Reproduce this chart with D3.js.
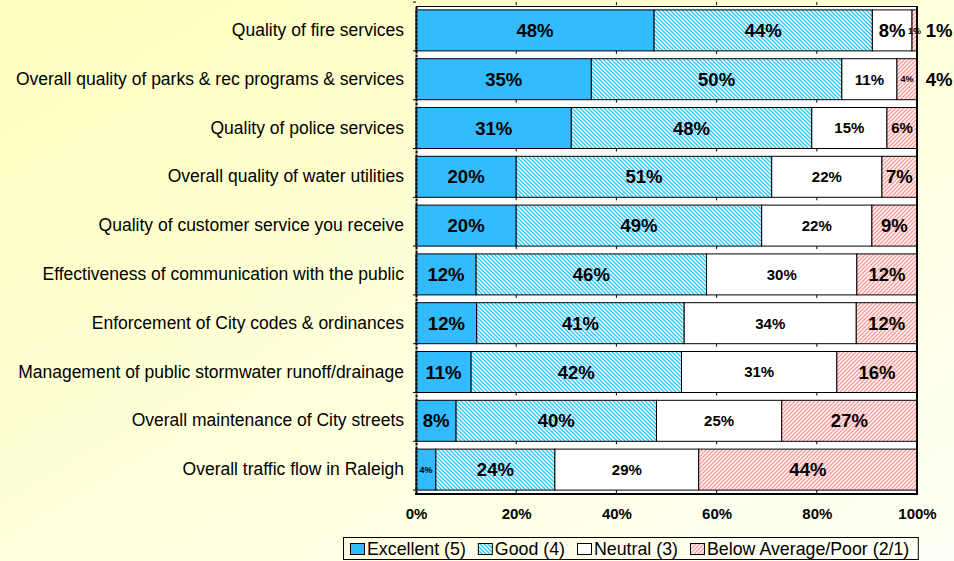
<!DOCTYPE html>
<html>
<head>
<meta charset="utf-8">
<script src="https://cdn.jsdelivr.net/npm/d3@7"></script>
<style>
  body { margin: 0; }
  svg { display: block; font-family: "Liberation Sans", Arial, sans-serif; }
</style>
</head>
<body>
<svg id="chart" width="954" height="561"></svg>
<script>
// survey categories, top to bottom
const categories = [
    "Quality of fire services",
    "Overall quality of parks & rec programs & services",
    "Quality of police services",
    "Overall quality of water utilities",
    "Quality of customer service you receive",
    "Effectiveness of communication with the public",
    "Enforcement of City codes & ordinances",
    "Management of public stormwater runoff/drainage",
    "Overall maintenance of City streets",
    "Overall traffic flow in Raleigh"
];

const seriesNames = ["Excellent (5)", "Good (4)", "Neutral (3)", "Below Average/Poor (2/1)"];

const excellent = [48, 35, 31, 20, 20, 12, 12, 11, 8, 4];
const good      = [44, 50, 48, 51, 49, 46, 41, 42, 40, 24];
const neutral   = [8, 11, 15, 22, 22, 30, 34, 31, 25, 29];
const poor      = [1, 4, 6, 7, 9, 12, 12, 16, 27, 44];

const xTicks = [0, 0.2, 0.4, 0.6, 0.8, 1];

const rows = categories.map((c, i) => ({
    category: c,
    [seriesNames[0]]: excellent[i],
    [seriesNames[1]]: good[i],
    [seriesNames[2]]: neutral[i],
    [seriesNames[3]]: poor[i]
}));

const svg = d3.select("#chart");
const W = 954, H = 561;
const plot = {left: 416, right: 917, top: 6, bottom: 494};

// background gradient
const defs = svg.append("defs");
const grad = defs.append("linearGradient")
    .attr("id", "bg").attr("x1", "0").attr("y1", "0").attr("x2", "1").attr("y2", "1");
grad.append("stop").attr("offset", "0%").attr("stop-color", "#ffffbe");
grad.append("stop").attr("offset", "100%").attr("stop-color", "#fffff6");

function hatch(id, color, up) {
    const p = defs.append("pattern")
        .attr("id", id)
        .attr("patternUnits", "userSpaceOnUse")
        .attr("width", 4).attr("height", 4);
    p.append("rect").attr("width", 4).attr("height", 4).attr("fill", "#fff");
    const d = up
        ? "M-1,1 l2,-2 M0,4 l4,-4 M3,5 l2,-2"
        : "M-1,3 l2,2 M0,0 l4,4 M3,-1 l2,2";
    p.append("path").attr("d", d).attr("stroke", color).attr("stroke-width", 1.5);
}
hatch("goodHatch", "#33c8f5", false);
hatch("poorHatch", "#ff9b9b", true);

const fills = {
    [seriesNames[0]]: "#33bbff",
    [seriesNames[1]]: "url(#goodHatch)",
    [seriesNames[2]]: "#ffffff",
    [seriesNames[3]]: "url(#poorHatch)"
};

svg.append("rect").attr("width", W).attr("height", H).attr("fill", "url(#bg)");

const x = d3.scaleLinear().domain([0, 1]).range([plot.left, plot.right]);
const y = d3.scaleBand().domain(categories)
    .range([plot.top, plot.bottom])
    .paddingInner(0.16).paddingOuter(0.08);

svg.append("rect")
    .attr("x", plot.left).attr("y", plot.top)
    .attr("width", plot.right - plot.left).attr("height", plot.bottom - plot.top)
    .attr("fill", "#fff");

const stack = d3.stack().keys(seriesNames).offset(d3.stackOffsetExpand);
const series = stack(rows);

const g = svg.append("g");
g.selectAll("g.series")
    .data(series)
    .join("g")
    .attr("class", "series")
    .attr("fill", d => fills[d.key])
    .selectAll("rect")
    .data(d => d)
    .join("rect")
    .attr("x", d => x(d[0]))
    .attr("y", d => y(d.data.category))
    .attr("width", d => x(d[1]) - x(d[0]))
    .attr("height", y.bandwidth())
    .attr("stroke", "#000")
    .attr("stroke-width", 1);

// small tick marks in the gaps between bars
const gapYs = categories.map(c => y(c) - y.step() * y.paddingInner()).concat([plot.bottom - y.step() * 0.08]);
gapYs.forEach(gy => {
    xTicks.slice(1, -1).forEach(t => {
        g.append("line")
            .attr("x1", x(t)).attr("x2", x(t))
            .attr("y1", gy).attr("y2", gy + 3)
            .attr("stroke", "#000").attr("stroke-width", 1);
    });
});

// segment labels
function labelSize(key, v) {
    if (v < 5) return 9;
    if (key === seriesNames[2] && v > 10) return 15;
    if (key === seriesNames[3] && v < 7) return 15;
    return 18.5;
}

series.forEach(s => {
    s.forEach(d => {
        const v = d.data[s.key];
        g.append("text")
            .attr("x", (x(d[0]) + x(d[1])) / 2)
            .attr("y", y(d.data.category) + y.bandwidth() / 2)
            .attr("dy", "0.36em")
            .attr("text-anchor", "middle")
            .attr("font-weight", "bold")
            .attr("font-size", labelSize(s.key, v))
            .attr("fill", "#000")
            .text(v + "%");
        if (v < 5 && s.key === seriesNames[3]) {
            g.append("text")
                .attr("x", plot.right + 22)
                .attr("y", y(d.data.category) + y.bandwidth() / 2)
                .attr("dy", "0.36em")
                .attr("text-anchor", "middle")
                .attr("font-weight", "bold")
                .attr("font-size", 18.5)
                .text(v + "%");
        }
    });
});

// frame
svg.append("line").attr("x1", plot.left).attr("x2", plot.right)
    .attr("y1", plot.top + 0.5).attr("y2", plot.top + 0.5)
    .attr("stroke", "#000").attr("stroke-width", 1);
svg.append("line").attr("x1", plot.right).attr("x2", plot.right)
    .attr("y1", plot.top).attr("y2", plot.bottom)
    .attr("stroke", "#000").attr("stroke-width", 2);
svg.append("line").attr("x1", plot.left - 1).attr("x2", plot.right + 1)
    .attr("y1", plot.bottom).attr("y2", plot.bottom)
    .attr("stroke", "#000").attr("stroke-width", 2);

// category axis on the left
const yAxis = svg.append("g")
    .attr("transform", `translate(${plot.left},0)`)
    .call(d3.axisLeft(y).tickSize(0).tickPadding(12));
yAxis.select(".domain").attr("stroke", "#000").attr("stroke-width", 2)
    .attr("stroke-dasharray", "3,1");
yAxis.selectAll("text")
    .attr("font-size", 17.5)
    .attr("font-family", "Liberation Sans, Arial, sans-serif")
    .attr("fill", "#000");
gapYs.forEach(gy => {
    svg.append("line")
        .attr("x1", plot.left - 3).attr("x2", plot.left)
        .attr("y1", gy).attr("y2", gy)
        .attr("stroke", "#000");
});

// value axis at the bottom
const xAxis = svg.append("g")
    .attr("transform", `translate(0,${plot.bottom})`)
    .call(d3.axisBottom(x).tickValues(xTicks).tickFormat(d3.format(".0%")).tickSize(0).tickPadding(14));
xAxis.select(".domain").remove();
xAxis.selectAll("text")
    .attr("font-size", 15)
    .attr("font-weight", "bold")
    .attr("font-family", "Liberation Sans, Arial, sans-serif")
    .attr("fill", "#000");

// legend
const legend = svg.append("g");
const legendBox = legend.append("rect")
    .attr("y", 537.5).attr("height", 22)
    .attr("fill", "none").attr("stroke", "#000").attr("stroke-width", 1);
let lx = 350;
let lastEnd = lx;
seriesNames.forEach(name => {
    legend.append("rect")
        .attr("x", lx + 0.5).attr("y", 543.5)
        .attr("width", 14).attr("height", 11)
        .attr("fill", fills[name]).attr("stroke", "#000");
    const t = legend.append("text")
        .attr("x", lx + 17).attr("y", 555)
        .attr("font-size", 17.8)
        .attr("fill", "#000")
        .text(name);
    lastEnd = lx + 17 + t.node().getComputedTextLength();
    lx = lastEnd + 12;
});
legendBox.attr("x", 343.5).attr("width", lastEnd + 9 - 343.5);
</script>
</body>
</html>
